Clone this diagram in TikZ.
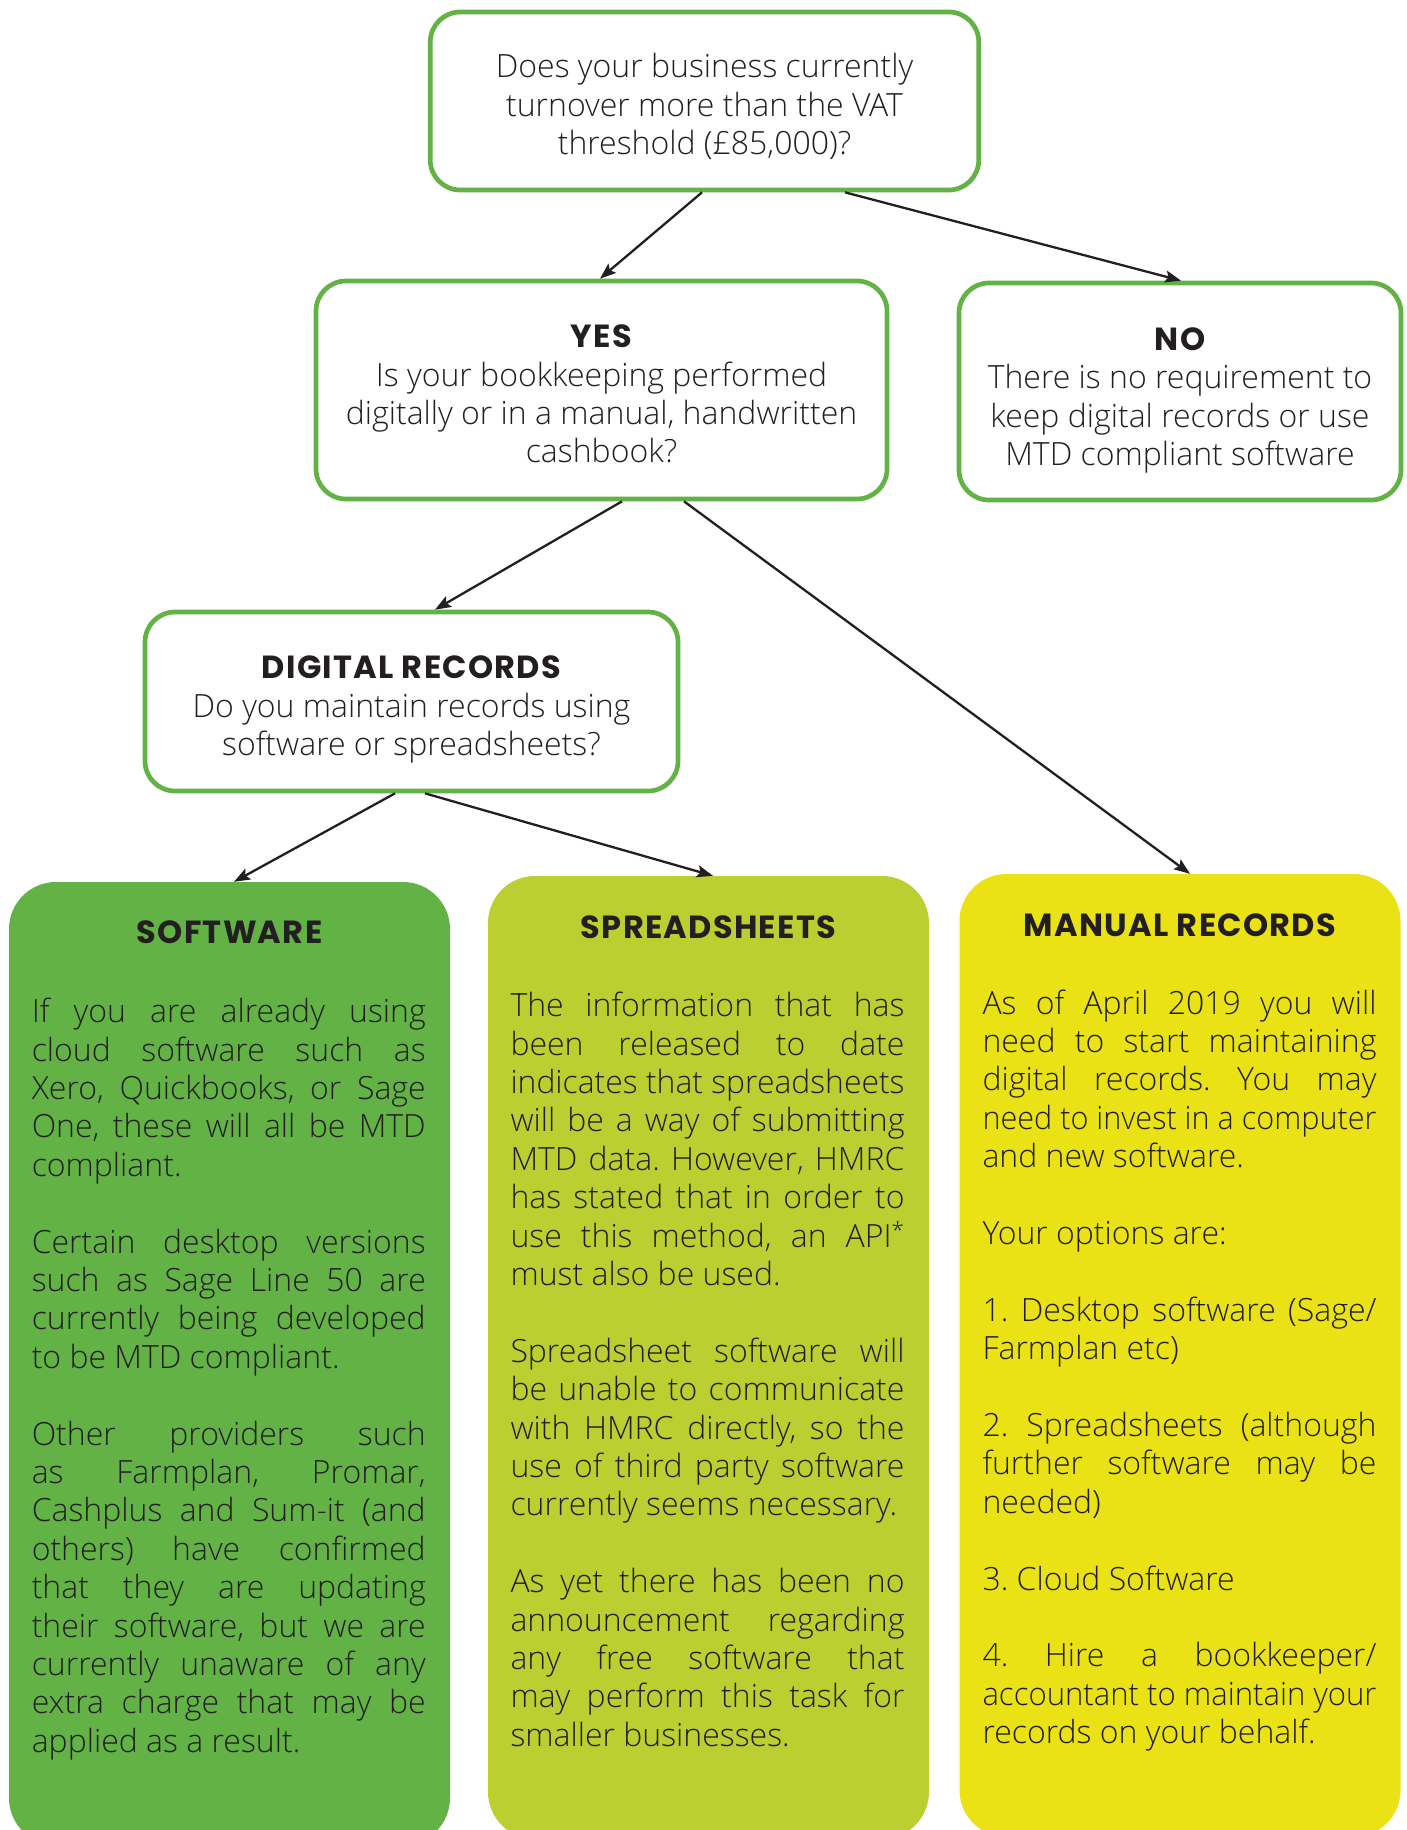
\documentclass[tikz,border=0pt]{standalone}
\usepackage{fontspec}
\usepackage{graphicx}
\setmainfont{Open Sans Light}
\newfontfamily\headfont{Poppins}[LetterSpace=4]
\usetikzlibrary{arrows.meta}
\definecolor{mgreen}{HTML}{62B246}
\definecolor{lgreen}{HTML}{BCCF31}
\definecolor{myellow}{HTML}{EAE215}
\definecolor{ink}{HTML}{231F20}
\newlength\colw
\setlength\colw{394pt}
\newsavebox\jlbox
\newcommand\bodyfont{\fontsize{32}{38.4}\selectfont}
\newcommand\headf{\headfont\bfseries\fontsize{32}{38.4}\selectfont}
\newcommand\fixsp{\frenchspacing\spaceskip=0pt\xspaceskip=0pt\relax}
\newcommand\jl[1]{\begingroup\spaceskip=.26em plus 1fil minus .04em\relax\xspaceskip=\spaceskip
  \sbox\jlbox{#1}%
  \ifdim\wd\jlbox>\colw\resizebox{\colw}{\height}{#1}\else\makebox[\colw][s]{#1}\fi\endgroup}
\begin{document}
\begin{tikzpicture}[x=1pt,y=-1pt,
  qbox/.style={draw=mgreen,line width=4.7pt,rounded corners=30pt,fill=white,inner sep=0pt},
  qtext/.style={align=center,text=ink,inner sep=0pt,font=\bodyfont,execute at begin node=\fixsp},
  colbox/.style={rounded corners=47pt,inner sep=0pt,minimum width=441pt,minimum height=963pt},
  head/.style={font=\headf,text=ink,inner sep=0pt},
  body/.style={text width=\colw,align=left,inner sep=0pt,anchor=north,text=ink,font=\bodyfont,execute at begin node=\fixsp},
  arr/.style={draw=ink,line width=2.3pt,-{Stealth[length=16pt,width=12pt,inset=3pt]}}
]
\useasboundingbox (0,0) rectangle (1407,1830);
\clip (0,0) rectangle (1407,1830);
\fill[white] (0,0) rectangle (1407,1830);

\node[qbox,minimum width=548.5pt,minimum height=178pt] (top) at (704.5,101) {};
\node[qtext] (toptext) at (704.5,106.5)
  {Does your business currently\\turnover more than the VAT\\threshold (£85,000)?};
\node[qbox,minimum width=571pt,minimum height=218pt] (yes) at (601.5,390) {};
\node[qtext] (yestext) at (601.5,394)
  {{\headf YES}\\Is your bookkeeping performed\\digitally or in a manual, handwritten\\cashbook?};
\node[qbox,minimum width=442pt,minimum height=217pt] (no) at (1180,391.5) {};
\node[qtext] (notext) at (1180,400.5)
  {{\headf NO}\\There is no requirement to\\keep digital records or use\\MTD compliant software};
\node[qbox,minimum width=533pt,minimum height=179pt] (dig) at (411.5,701.5) {};
\node[qtext] (digtext) at (411.5,709.5)
  {{\headf DIGITAL RECORDS}\\Do you maintain records using\\software or spreadsheets?};

\node[colbox,fill=mgreen] (sw) at (229.5,1363.5) {};
\node[colbox,fill=lgreen] (ss) at (708.5,1357.5) {};
\node[colbox,fill=myellow] (mr) at (1180,1355.5) {};

\node[head] (swh) at (229.5,932) {SOFTWARE};
\node[head] (ssh) at (708.5,927.5) {SPREADSHEETS};
\node[head] (mrh) at (1180,925) {MANUAL RECORDS};

\node[body] (swb) at (228.75,998) {%
\jl{If you are already using}\\
\jl{cloud software such as}\\
\jl{Xero, Quickbooks, or Sage}\\
\jl{One, these will all be MTD}\\
compliant.\\[38.4pt]
\jl{Certain desktop versions}\\
\jl{such as Sage Line 50 are}\\
\jl{currently being developed}\\
to be MTD compliant.\\[38.4pt]
\jl{Other providers such}\\
\jl{as Farmplan, Promar,}\\
\jl{Cashplus and Sum-it (and}\\
\jl{others) have confirmed}\\
\jl{that they are updating}\\
\jl{their software, but we are}\\
\jl{currently unaware of any}\\
\jl{extra charge that may be}\\
applied as a result.};

\node[body] (ssb) at (707.5,992) {%
\jl{The information that has}\\
\jl{been released to date}\\
\jl{indicates that spreadsheets}\\
\jl{will be a way of submitting}\\
\jl{MTD data. However, HMRC}\\
\jl{has stated that in order to}\\
\jl{use this method, an API\textsuperscript{*}}\\
must also be used.\\[38.4pt]
\jl{Spreadsheet software will}\\
\jl{be unable to communicate}\\
\jl{with HMRC directly, so the}\\
\jl{use of third party software}\\
currently seems necessary.\\[38.4pt]
\jl{As yet there has been no}\\
\jl{announcement regarding}\\
\jl{any free software that}\\
\jl{may perform this task for}\\
smaller businesses.};

\node[body] (mrb) at (1179.5,989.5) {%
\jl{As of April 2019 you will}\\
\jl{need to start maintaining}\\
\jl{digital records. You may}\\
\jl{need to invest in a computer}\\
and new software.\\[38.4pt]
Your options are:\\[38.4pt]
\jl{1. Desktop software (Sage/}\\
Farmplan etc)\\[38.4pt]
\jl{2. Spreadsheets (although}\\
\jl{further software may be}\\
needed)\\[38.4pt]
3. Cloud Software\\[38.4pt]
\jl{4. Hire a bookkeeper/}\\
\jl{accountant to maintain your}\\
records on your behalf.};

\draw[arr] ([xshift=-2.5pt]top.south) -- ([xshift=-1.5pt]yes.north);
\draw[arr] ([xshift=140.5pt]top.south) -- ([xshift=1pt]no.north);
\draw[arr] ([xshift=20.5pt]yes.south) -- ([xshift=23.5pt]dig.north);
\draw[arr] ([xshift=82.5pt]yes.south) -- ([xshift=10pt]mr.north);
\draw[arr] ([xshift=-16.5pt]dig.south) -- ([xshift=4.5pt]sw.north);
\draw[arr] ([xshift=13.5pt]dig.south) -- ([xshift=4.5pt]ss.north);
\end{tikzpicture}
\end{document}
